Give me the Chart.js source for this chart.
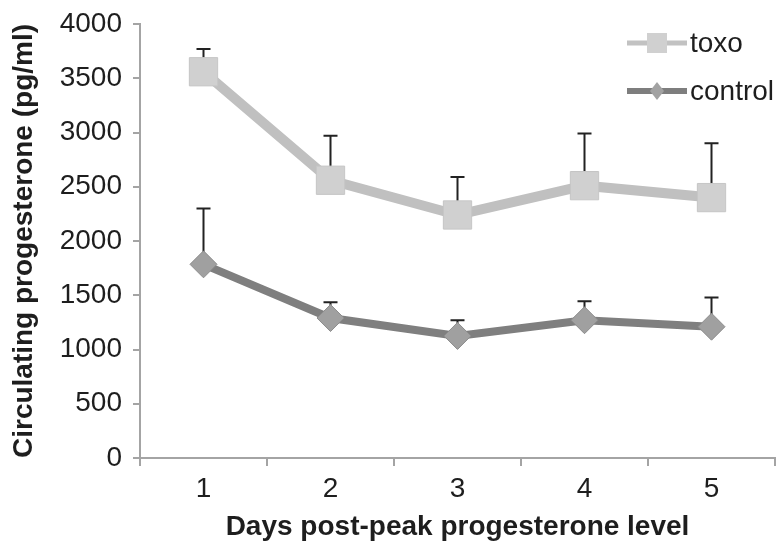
<!DOCTYPE html>
<html>
<head>
<meta charset="utf-8">
<script src="https://cdn.jsdelivr.net/npm/chart.js@4"></script>
<style>
  html, body { margin: 0; padding: 0; background: #ffffff; }
  #wrap { width: 781px; height: 547px; }
</style>
</head>
<body>
<div id="wrap"><canvas id="chart" width="781" height="547"></canvas></div>
<script>
// valores
const days = ['1', '2', '3', '4', '5'];
const toxo = [3560, 2560, 2240, 2510, 2400];
const toxoErr = [210, 410, 350, 480, 500];
const control = [1785, 1290, 1125, 1270, 1210];
const controlErr = [515, 145, 145, 175, 270];
const yTicks = [0, 500, 1000, 1500, 2000, 2500, 3000, 3500, 4000];

const axisGray = '#a4a4a4';
const textColor = '#1e1e1e';
const fontFamily = '"Liberation Sans", Arial, sans-serif';

// barras de error (solo hacia arriba)
const errorBars = {
    id: 'errorBars',
    beforeDatasetsDraw(chart) {
        const ctx = chart.ctx;
        const y = chart.scales.y;
        const errs = [toxoErr, controlErr];
        chart.data.datasets.forEach((ds, i) => {
            const meta = chart.getDatasetMeta(i);
            meta.data.forEach((pt, j) => {
                const top = y.getPixelForValue(ds.data[j] + errs[i][j]);
                ctx.save();
                ctx.strokeStyle = '#222222';
                ctx.lineWidth = 2;
                ctx.beginPath();
                ctx.moveTo(pt.x, pt.y);
                ctx.lineTo(pt.x, top);
                ctx.moveTo(pt.x - 7, top);
                ctx.lineTo(pt.x + 7, top);
                ctx.stroke();
                ctx.restore();
            });
        });
    }
};

// leyenda dibujada a mano (línea + marcador)
const lineLegend = {
    id: 'lineLegend',
    afterDraw(chart) {
        const ctx = chart.ctx;
        const items = [
            { text: 'toxo', y: 43, color: '#c2c2c2', fill: '#d0d0d0', square: true, w: 5 },
            { text: 'control', y: 91, color: '#7e7e7e', fill: '#a2a2a2', square: false, w: 6 }
        ];
        items.forEach(it => {
            ctx.save();
            ctx.strokeStyle = it.color;
            ctx.lineWidth = it.w;
            ctx.beginPath();
            ctx.moveTo(627, it.y);
            ctx.lineTo(687, it.y);
            ctx.stroke();
            ctx.fillStyle = it.fill;
            ctx.beginPath();
            if (it.square) {
                ctx.rect(647, it.y - 10, 20, 20);
            } else {
                ctx.moveTo(657, it.y - 9);
                ctx.lineTo(664, it.y);
                ctx.lineTo(657, it.y + 9);
                ctx.lineTo(650, it.y);
                ctx.closePath();
            }
            ctx.fill();
            ctx.fillStyle = textColor;
            ctx.font = '28px ' + fontFamily;
            ctx.textBaseline = 'middle';
            ctx.fillText(it.text, 690, it.y + 1);
            ctx.restore();
        });
    }
};

new Chart(document.getElementById('chart'), {
    type: 'line',
    data: {
        labels: days,
        datasets: [
            {
                label: 'toxo',
                data: toxo,
                borderColor: '#c0c0c0',
                borderWidth: 10,
                pointStyle: 'rect',
                pointRadius: 20,
                pointBackgroundColor: '#d0d0d0',
                pointBorderColor: '#c6c6c6',
                pointBorderWidth: 1,
                tension: 0
            },
            {
                label: 'control',
                data: control,
                borderColor: '#7f7f7f',
                borderWidth: 8,
                pointStyle: 'rectRot',
                pointRadius: 13.5,
                pointBackgroundColor: '#a0a0a0',
                pointBorderColor: '#8c8c8c',
                pointBorderWidth: 1,
                tension: 0
            }
        ]
    },
    options: {
        responsive: false,
        animation: false,
        layout: { autoPadding: false, padding: { left: 0, right: 6, top: 24, bottom: 0 } },
        plugins: { legend: { display: false }, tooltip: { enabled: false } },
        scales: {
            x: {
                offset: true,
                grid: { offset: true, drawOnChartArea: false, color: axisGray, lineWidth: 2, tickLength: 8 },
                border: { color: axisGray, width: 2 },
                ticks: { color: textColor, padding: 6, font: { size: 28, family: fontFamily } },
                title: {
                    display: true,
                    text: 'Days post-peak progesterone level',
                    color: textColor,
                    padding: { top: 0, bottom: 3 },
                    font: { size: 28, weight: 'bold', family: fontFamily }
                },
                afterFit(scale) {
                    scale.height = 89;
                    scale.paddingLeft = 0;
                    scale.paddingRight = 0;
                }
            },
            y: {
                min: 0,
                max: 4000,
                afterBuildTicks(scale) { scale.ticks = yTicks.map(v => ({ value: v })); },
                grid: { drawOnChartArea: false, color: axisGray, lineWidth: 2, tickLength: 7 },
                border: { color: axisGray, width: 2 },
                ticks: {
                    color: textColor,
                    padding: 11,
                    font: { size: 28, family: fontFamily },
                    callback: (v) => String(v)
                },
                title: {
                    display: true,
                    text: 'Circulating progesterone (pg/ml)',
                    color: textColor,
                    padding: { top: 7, bottom: 0 },
                    font: { size: 28, weight: 'bold', family: fontFamily }
                },
                afterFit(scale) {
                    scale.width = 140;
                    scale.paddingTop = 0;
                    scale.paddingBottom = 0;
                }
            }
        }
    },
    plugins: [errorBars, lineLegend]
});
</script>
</body>
</html>
